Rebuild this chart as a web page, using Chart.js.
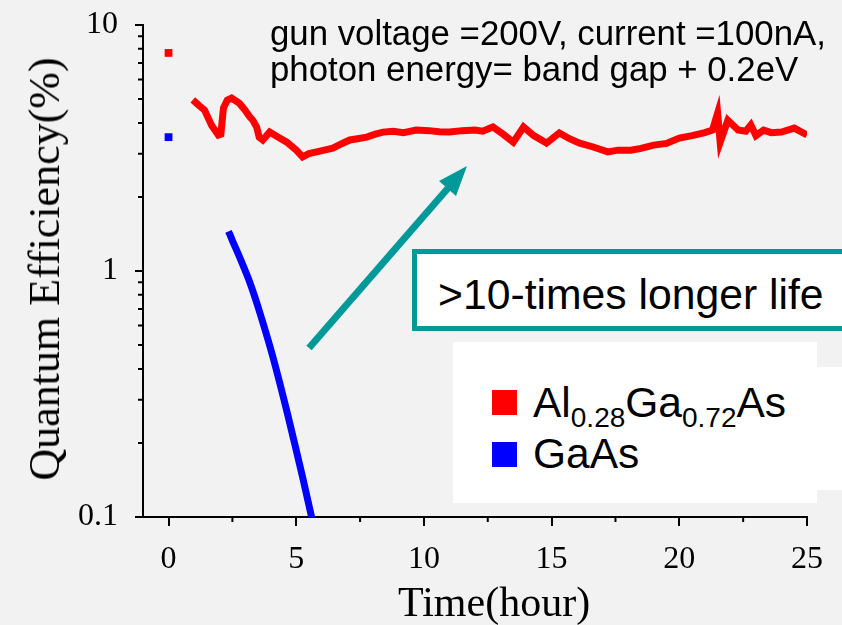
<!DOCTYPE html>
<html>
<head>
<meta charset="utf-8">
<script src="https://cdn.jsdelivr.net/npm/chart.js@4.4.1/dist/chart.umd.min.js"></script>
<style>
  html, body { margin: 0; padding: 0; background: #f2f2f2; }
  #wrap { position: relative; width: 842px; height: 625px; overflow: hidden; background: #f2f2f2; }
  #wrap canvas { position: absolute; left: 0; top: 0; }
  .sans { position: absolute; font-family: "Liberation Sans", Arial, sans-serif; color: #000; white-space: nowrap; }
  .serif { position: absolute; font-family: "Liberation Serif", "Times New Roman", serif; color: #000; white-space: nowrap; }
  .sub { font-size: 28px; position: relative; top: 10px; }
</style>
</head>
<body>
<div id="wrap">
  <canvas id="qe" width="842" height="625"></canvas>

  <div class="sans" style="left:270px; top:15px; font-size:34.8px; line-height:36px;">
    gun voltage =200V, current =100nA,<br>photon energy= band gap + 0.2eV
  </div>

  <div style="position:absolute; left:412px; top:249px; width:450px; height:82px; box-sizing:border-box; border:5px solid #009999; background:#fff;">
    <div class="sans" style="left:21px; top:19px; font-size:42.7px; line-height:42px;">&gt;10-times longer life</div>
  </div>

  <svg width="842" height="625" style="position:absolute; left:0; top:0;">
    <line x1="309" y1="348" x2="449" y2="187" stroke="#009999" stroke-width="7"/>
    <polygon points="467,166 456,196 439,181" fill="#009999"/>
  </svg>

  <div style="position:absolute; left:453px; top:342px; width:364px; height:161px; background:#fff;"></div>
  <div style="position:absolute; left:817px; top:367px; width:30px; height:123px; background:#fff;"></div>
  <div style="position:absolute; left:492px; top:390px; width:25px; height:25px; background:#ff0000;"></div>
  <div style="position:absolute; left:492px; top:442px; width:25px; height:25px; background:#0000ff;"></div>
  <div class="sans" style="left:533px; top:382px; font-size:42.5px; line-height:42px;">Al<span class="sub">0.28</span>Ga<span class="sub">0.72</span>As</div>
  <div class="sans" style="left:533px; top:433px; font-size:42.5px; line-height:42px;">GaAs</div>

  <div class="serif" style="left:398px; top:581px; font-size:42px; line-height:42px;">Time(hour)</div>
  <div class="serif" style="left:45px; top:269px; font-size:44px; line-height:44px; transform:translate(-50%,-50%) rotate(-90deg);">Quantum Efficiency(%)</div>
</div>

<script>
// axis ticks
const xTicks = [0, 5, 10, 15, 20, 25];
const xMinor = [2.5, 7.5, 12.5, 17.5, 22.5];
const yTicks = [0.1, 1, 10];
const yMinor = [0.2, 0.3, 0.4, 0.5, 0.6, 0.7, 0.8, 0.9, 2, 3, 4, 5, 6, 7, 8, 9];

// first measurement at t = 0
const startTime = [0];
const redStart = [7.7];
const blueStart = [3.5];

// Al0.28Ga0.72As
const redTime = [0.95, 1.2, 1.41, 1.69, 1.95, 2.05, 2.15, 2.3, 2.47, 2.78, 3.0, 3.18, 3.3, 3.45, 3.55, 3.69, 3.96,
  4.3, 4.63, 5.0, 5.25, 5.5, 5.8, 6.1, 6.43, 6.8, 7.1, 7.4, 7.76, 8.1, 8.4, 8.8, 9.2, 9.7, 10.2, 10.6,
  11.0, 11.5, 12.0, 12.3, 12.7, 13.1, 13.5, 13.9, 14.3, 14.8, 15.3, 15.7, 16.1, 16.6, 17.2, 17.6, 18.1,
  18.5, 19.0, 19.5, 20.0, 20.5, 21.0, 21.3, 21.5, 21.6, 21.9, 22.3, 22.6, 22.8, 23.0, 23.3, 23.6, 24.0,
  24.5, 25.0];
const redQE = [4.96, 4.7, 4.51, 3.9, 3.57, 3.6, 4.6, 4.95, 5.05, 4.8, 4.5, 4.23, 4.1, 3.85, 3.5, 3.41, 3.67,
  3.5, 3.34, 3.1, 2.91, 3.0, 3.05, 3.1, 3.16, 3.3, 3.41, 3.45, 3.5, 3.6, 3.67, 3.7, 3.65, 3.74, 3.72, 3.68,
  3.67, 3.72, 3.74, 3.7, 3.85, 3.6, 3.34, 3.85, 3.55, 3.31, 3.64, 3.45, 3.31, 3.2, 3.05, 3.1, 3.1,
  3.15, 3.25, 3.3, 3.47, 3.55, 3.65, 3.74, 4.38, 3.34, 4.1, 3.74, 3.7, 3.92, 3.55, 3.74, 3.65, 3.67,
  3.81, 3.57];

// GaAs
const blueTime = [2.35, 2.5, 2.78, 3.18, 3.57, 4.08, 4.63, 5.25, 5.62];
const blueQE = [1.45, 1.33, 1.14, 0.9, 0.68, 0.45, 0.27, 0.145, 0.098];

const pts = (xs, ys) => xs.map((x, i) => ({ x: x, y: ys[i] }));

const minorTicks = {
  id: 'minorTicks',
  afterDraw(chart) {
    const ctx = chart.ctx;
    const x = chart.scales.x, y = chart.scales.y;
    ctx.save();
    ctx.strokeStyle = '#000';
    ctx.lineWidth = 2;
    ctx.beginPath();
    xMinor.forEach(v => {
      const p = x.getPixelForValue(v);
      ctx.moveTo(p, x.top);
      ctx.lineTo(p, x.top + 5);
    });
    yMinor.forEach(v => {
      const p = y.getPixelForValue(v);
      ctx.moveTo(y.right, p);
      ctx.lineTo(y.right - 5, p);
    });
    ctx.stroke();
    ctx.restore();
  }
};

const tickFont = { family: '"Liberation Serif", "Times New Roman", serif', size: 32 };

new Chart(document.getElementById('qe'), {
  type: 'scatter',
  data: {
    datasets: [
      { data: pts(redTime, redQE), showLine: true, borderColor: '#ff0000', borderWidth: 7, pointRadius: 0 },
      { data: pts(blueTime, blueQE), showLine: true, borderColor: '#0000ff', borderWidth: 7, pointRadius: 0, tension: 0.3 },
      { data: pts(startTime, redStart), pointStyle: 'rect', pointRadius: 5.5, backgroundColor: '#ff0000', borderWidth: 0 },
      { data: pts(startTime, blueStart), pointStyle: 'rect', pointRadius: 5.5, backgroundColor: '#0000ff', borderWidth: 0 }
    ]
  },
  options: {
    responsive: false,
    animation: false,
    layout: { padding: { top: 25, right: 35, left: 0, bottom: 0 } },
    plugins: { legend: { display: false }, tooltip: { enabled: false } },
    scales: {
      x: {
        type: 'linear',
        min: -1,
        max: 25,
        afterFit: s => { s.height = 108; s.paddingLeft = 0; s.paddingRight = 0; },
        afterBuildTicks: s => { s.ticks = xTicks.map(v => ({ value: v })); },
        border: { display: true, color: '#000', width: 2 },
        grid: { drawOnChartArea: false, drawTicks: true, tickLength: 9, color: '#000', lineWidth: 2 },
        ticks: { font: tickFont, color: '#000', padding: 14, maxRotation: 0 }
      },
      y: {
        type: 'logarithmic',
        min: 0.1,
        max: 10,
        afterFit: s => { s.width = 143; s.paddingTop = 0; s.paddingBottom = 0; },
        afterBuildTicks: s => { s.ticks = yTicks.map(v => ({ value: v })); },
        border: { display: true, color: '#000', width: 2 },
        grid: { drawOnChartArea: false, drawTicks: true, tickLength: 8, color: '#000', lineWidth: 2 },
        ticks: { font: tickFont, color: '#000', padding: 17, callback: v => String(v) }
      }
    }
  },
  plugins: [minorTicks]
});
</script>
</body>
</html>
